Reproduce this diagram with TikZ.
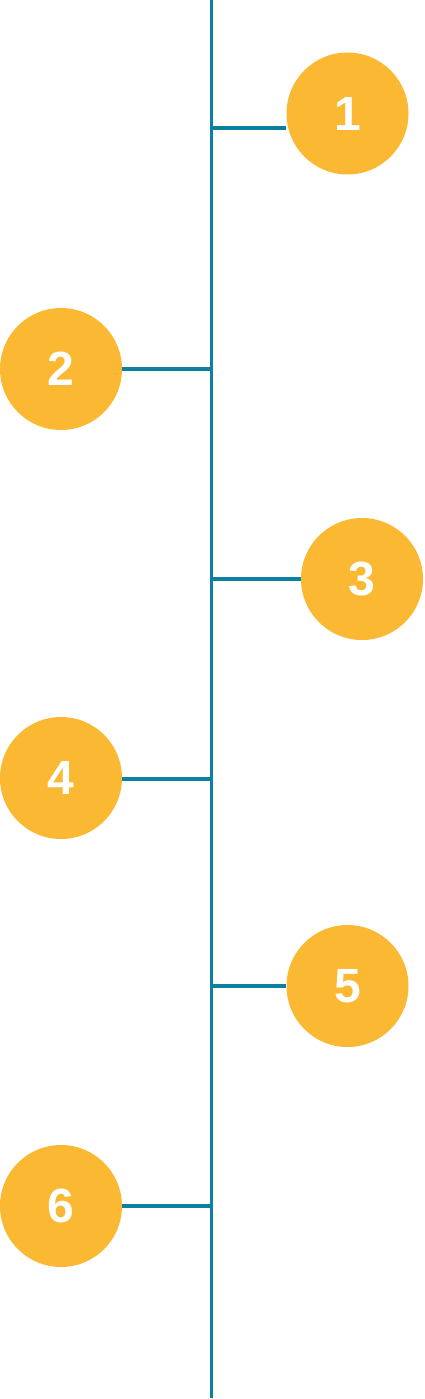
\documentclass[tikz,border=0pt]{standalone}
\usepackage{fontspec}
\setmainfont{Liberation Sans}
\definecolor{orng}{HTML}{FBB833}
\definecolor{teal}{HTML}{0B80A0}
\begin{document}
\begin{tikzpicture}[x=1pt,y=-1pt,
  dot/.style={circle,fill=orng,minimum size=122pt,inner sep=0pt,text=white,font=\fontsize{48}{48}\selectfont\bfseries},
  link/.style={draw=teal,line width=3.5pt}]
\useasboundingbox (0,0) rectangle (424,1399);
\coordinate (top) at (211.5,0);
\coordinate (bot) at (211.5,1398);
\draw[link] (top) -- (bot);
\node[dot] (n1) at (347.5,113.5) {1};
\node[dot] (n2) at (61,369) {2};
\node[dot] (n3) at (362,579) {3};
\node[dot] (n4) at (61,778) {4};
\node[dot] (n5) at (347.5,986) {5};
\node[dot] (n6) at (61,1206) {6};
\coordinate (j1) at (211.5,128);
\coordinate (j2) at (211.5,369);
\coordinate (j3) at (211.5,579);
\coordinate (j4) at (211.5,779);
\coordinate (j5) at (211.5,986);
\coordinate (j6) at (211.5,1206);
\draw[link] (j1) -- (n1.west |- j1);
\draw[link] (j2) -- (n2.east);
\draw[link] (j3) -- (n3.west);
\draw[link] (j4) -- (n4.east |- j4);
\draw[link] (j5) -- (n5.west);
\draw[link] (j6) -- (n6.east);
\end{tikzpicture}
\end{document}
